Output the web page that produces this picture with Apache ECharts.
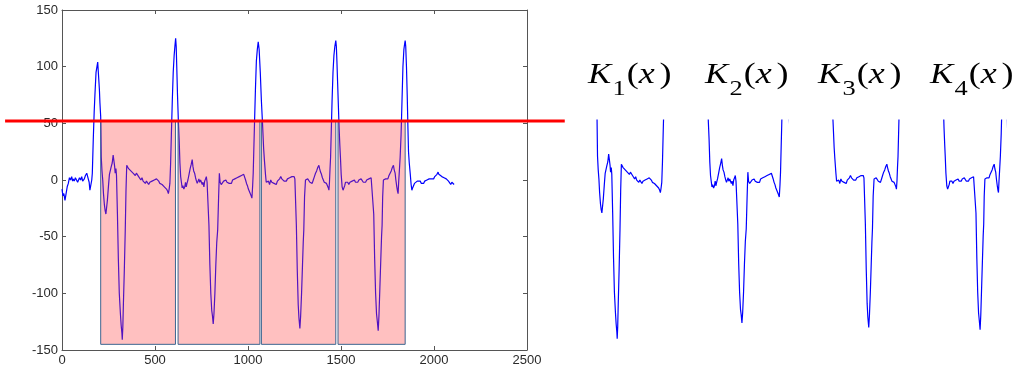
<!DOCTYPE html>
<html><head><meta charset="utf-8">
<script src="https://cdn.jsdelivr.net/npm/echarts@6/dist/echarts.min.js"></script>
<style>html,body{margin:0;padding:0;background:#fff}#c{width:1024px;height:371px}</style>
</head><body><div id="c"></div>
<script>
// ---- data ----
const signalX = [
0,5,10,16,22,28,34,40,46,52,57,61,66,72,79,84,88,94,100,106,111,115,120,126,133,138,141,146,150,156,160,163,
168,173,177,183,188,192,195,198,201,204,208,211,
215,219,223,228,232,236,240,244,250,255,260,265,270,275,279,283,286,290,293,
298,303,308,314,318,322,324,327,330,335,340,344,348,
352,358,364,370,376,382,388,394,400,406,412,418,424,430,436,442,448,454,460,466,472,478,484,490,496,502,508,514,520,526,532,538,544,550,556,562,568,572,576,580,
584,588,593,598,603,607,611,614,617,621,626,630,634,638,
642,646,650,655,660,664,668,672,677,683,689,695,700,704,708,713,718,723,727,731,736,740,745,749,754,758,763,767,772,776,780,785,
790,795,800,805,809,813,817,822,827,832,837,842,846,
850,856,863,869,875,881,887,893,899,905,911,917,923,929,935,941,947,953,959,965,971,977,982,987,992,997,1002,1006,1012,1017,1021,1025,1028,
1031,1035,1040,1045,1050,1055,1060,1066,1072,1078,1084,1088,1094,1098,
1104,1110,1116,1122,1128,1134,1140,1146,1152,1158,1164,1170,1176,1182,1188,1194,1200,1206,1212,1218,1224,1230,1236,1242,1248,1252,1256,
1260,1265,1270,1274,1279,1283,1288,1293,1297,1300,1304,1309,
1315,1321,1327,1333,1339,1345,1351,1357,1363,1369,1375,1381,1385,1390,1395,1400,1405,1410,1416,1422,1428,1432,1435,1438,1441,1444,
1448,1452,1457,1462,1467,1472,1475,1478,1482,1486,1490,1494,1497,1501,1506,1511,1515,1520,1524,
1530,1536,1542,1548,1554,1560,1566,1572,1578,1584,1590,1596,1602,1608,1614,1620,1626,1632,1638,1644,1650,1656,1662,1667,1671,
1676,1681,1686,1691,1696,1700,1704,1709,1714,1718,1721,1724,1728,
1734,1740,1746,1752,1758,1764,1770,1776,1782,1786,1791,1795,1800,1804,1807,1810,1813,
1818,1823,1828,1833,1838,1842,1845,1848,1852,1856,1860,1863,1867,1872,1877,1881,1885,
1890,1895,1900,1905,1910,1915,1920,1926,1932,1938,1944,1950,1956,1962,1968,1974,1980,1986,1992,1998,2004,2010,2016,2022,2026,2030,2036,2042,2048,2054,2060,2066,2072,2078,2084,2090,2096,2102,2108
];
const signalY = [
-8,-14,-12,-18,-12,-6,-3,2,0,3,-1,1,-1,2,1,-2,-1,2,0,3,-1,-2,1,4,6,5,7,-2,-9,-10,0,6,
35,60,75,95,100,104,96,95,80,68,56,20,
8,0,-12,-22,-27,-30,-29,-18,-5,5,6,12,15,22,23,12,6,10,4,
-30,-70,-100,-118,-128,-135,-141,-130,-110,-80,-45,-10,13,
12,10,11,8,9,6,7,4,6,5,3,4,0,2,-1,0,-3,-1,-2,-4,-2,-3,-1,-2,0,-1,1,0,-1,-3,-2,-4,-5,-6,-7,-8,-10,-12,-8,-3,
15,40,70,95,110,118,125,118,100,75,50,35,15,3,
-2,-7,-5,-8,-6,-2,-6,-3,0,5,10,14,18,12,8,6,2,-1,-3,-2,1,-2,0,-1,-4,-2,-6,-1,1,3,-2,-3,
-40,-75,-100,-115,-120,-127,-118,-100,-75,-55,-44,-15,6,
-2,-4,-3,-1,-2,0,-2,-1,-3,-2,-3,0,-1,1,0,2,1,3,2,4,3,5,4,0,-3,-5,-8,-9,-12,-14,-16,-5,6,
25,50,80,105,115,122,115,95,70,50,28,18,5,-2,
-3,-1,-4,0,-2,-1,-3,-2,-4,-1,-2,1,3,1,2,-1,0,-1,1,0,2,1,3,2,3,1,0,
-40,-80,-110,-122,-131,-120,-100,-75,-55,-44,-15,0,
-1,1,0,-2,-1,-3,0,3,6,8,11,13,10,7,5,2,0,-2,-1,-3,-4,-7,-9,-2,10,20,
45,70,95,110,118,123,118,105,85,65,45,30,20,5,-6,-9,-10,-5,-2,
-3,-2,-4,-2,-3,-1,-2,0,-2,-1,-2,0,-1,1,0,-2,-1,-2,0,-1,1,0,2,3,2,
-30,-70,-100,-118,-126,-133,-120,-95,-70,-50,-40,-15,0,
-1,1,2,1,4,6,8,11,13,9,6,0,-6,-10,-12,-2,6,
20,40,70,100,115,120,123,118,100,75,45,25,15,6,-4,-9,-7,
-5,-3,-4,-2,-1,-2,0,-1,-3,-2,-3,-1,-2,0,-1,1,0,1,2,1,3,4,5,7,5,6,4,3,4,2,3,1,2,-1,-2,-4,-2,-3,-4
];
const xTicks = [0, 500, 1000, 1500, 2000, 2500];
const yTicks = [-150, -100, -50, 0, 50, 100, 150];
const segStart = [208, 624, 1072, 1484];
const segEnd = [610, 1064, 1472, 1845];
const segBottom = -145;
const threshold = 52;
const thresholdFrom = -306;
const thresholdTo = 2703;
const panelIndex = ['1', '2', '3', '4'];

// ---- layout ----
const signal = signalX.map((x, i) => [x, signalY[i]]);
const panelLeft = [597, 708, 832, 943];
const panelRight = [667, 787, 903, 1005];
const labelLeft = [588, 705, 818, 930];

const chart = echarts.init(document.getElementById('c'), null, {renderer: 'canvas'});
const axisColor = '#555';
const labelFont = {fontFamily: 'Liberation Sans', fontSize: 13, color: '#2a2a2a'};
const tickStyle = {inside: true, length: 4, lineStyle: {color: axisColor}};
const lineStyle = {show: true, onZero: false, lineStyle: {color: axisColor}};

const grids = [{left: 62, right: 497, top: 10, bottom: 21}];
const xAxes = [
  {gridIndex: 0, type: 'value', min: xTicks[0], max: xTicks[xTicks.length - 1], interval: xTicks[1] - xTicks[0],
   axisLine: lineStyle, axisTick: tickStyle,
   axisLabel: Object.assign({margin: 4, formatter: v => String(v)}, labelFont), splitLine: {show: false}},
  {gridIndex: 0, type: 'value', position: 'top', min: xTicks[0], max: xTicks[xTicks.length - 1], interval: xTicks[1] - xTicks[0],
   axisLine: lineStyle, axisTick: tickStyle, axisLabel: {show: false}, splitLine: {show: false}}
];
const yAxes = [
  {gridIndex: 0, type: 'value', min: yTicks[0], max: yTicks[yTicks.length - 1], interval: yTicks[1] - yTicks[0],
   axisLine: lineStyle, axisTick: Object.assign({show: true}, tickStyle),
   axisLabel: Object.assign({margin: 4, formatter: v => String(v)}, labelFont), splitLine: {show: false}},
  {gridIndex: 0, type: 'value', position: 'right', min: yTicks[0], max: yTicks[yTicks.length - 1], interval: yTicks[1] - yTicks[0],
   axisLine: lineStyle, axisTick: Object.assign({show: true}, tickStyle), axisLabel: {show: false}, splitLine: {show: false}}
];
const series = [
  {type: 'line', xAxisIndex: 0, yAxisIndex: 0, data: signal, showSymbol: false, symbol: 'none',
   lineStyle: {color: '#0000ff', width: 1.2}, z: 2, silent: true},
  {type: 'custom', xAxisIndex: 0, yAxisIndex: 0, z: 3, silent: true,
   data: segStart.map((s, i) => [s, segEnd[i], threshold, segBottom]),
   renderItem: function (params, api) {
     const p1 = api.coord([api.value(0), api.value(2)]);
     const p2 = api.coord([api.value(1), api.value(3)]);
     return {type: 'rect', shape: {x: p1[0], y: p1[1], width: p2[0] - p1[0], height: p2[1] - p1[1]},
             style: {fill: 'rgba(255,60,60,0.32)', stroke: '#3d6590', lineWidth: 1}};
   }},
  {type: 'custom', xAxisIndex: 0, yAxisIndex: 0, z: 4, silent: true, clip: false,
   data: [[thresholdFrom, thresholdTo, threshold]],
   renderItem: function (params, api) {
     const p1 = api.coord([api.value(0), api.value(2)]);
     const p2 = api.coord([api.value(1), api.value(2)]);
     return {type: 'line', shape: {x1: p1[0], y1: p1[1], x2: p2[0], y2: p2[1]},
             style: {stroke: '#ff0000', lineWidth: 3}};
   }}
];
for (let i = 0; i < segStart.length; i++) {
  grids.push({left: panelLeft[i], width: panelRight[i] - panelLeft[i], top: 120, bottom: 22});
  xAxes.push({gridIndex: i + 1, type: 'value', min: segStart[i], max: segEnd[i], show: false});
  yAxes.push({gridIndex: i + 1, type: 'value', min: yTicks[0], max: threshold, show: false});
  series.push({type: 'line', xAxisIndex: i + 2, yAxisIndex: i + 2, data: signal, showSymbol: false, symbol: 'none',
               clip: true, lineStyle: {color: '#0000ff', width: 1.2}, silent: true});
}
const serif = 'Liberation Serif';
const graphics = panelIndex.map((n, i) => ({
  type: 'text', x: labelLeft[i], y: 54, scaleX: 1.2,
  style: {
    text: '{k|K}{s|' + n + '}{p|(}{v|x}{q|)}',
    rich: {
      k: {fontFamily: serif, fontStyle: 'italic', fontSize: 29, lineHeight: 36, fill: '#000', verticalAlign: 'bottom', padding: [0, 1, 0, 0]},
      s: {fontFamily: serif, fontSize: 22, lineHeight: 36, fill: '#000', verticalAlign: 'bottom', padding: [0, 1, -10, 0]},
      p: {fontFamily: serif, fontSize: 30, lineHeight: 36, fill: '#000', verticalAlign: 'bottom', padding: [0, 0, 0, 0]},
      v: {fontFamily: serif, fontStyle: 'italic', fontSize: 30, lineHeight: 36, fill: '#000', verticalAlign: 'bottom', padding: [0, 4, 0, 0]},
      q: {fontFamily: serif, fontSize: 30, lineHeight: 36, fill: '#000', verticalAlign: 'bottom'}
    }
  }
}));

chart.setOption({
  animation: false,
  backgroundColor: '#fff',
  grid: grids, xAxis: xAxes, yAxis: yAxes, series: series, graphic: graphics
});
</script></body></html>
